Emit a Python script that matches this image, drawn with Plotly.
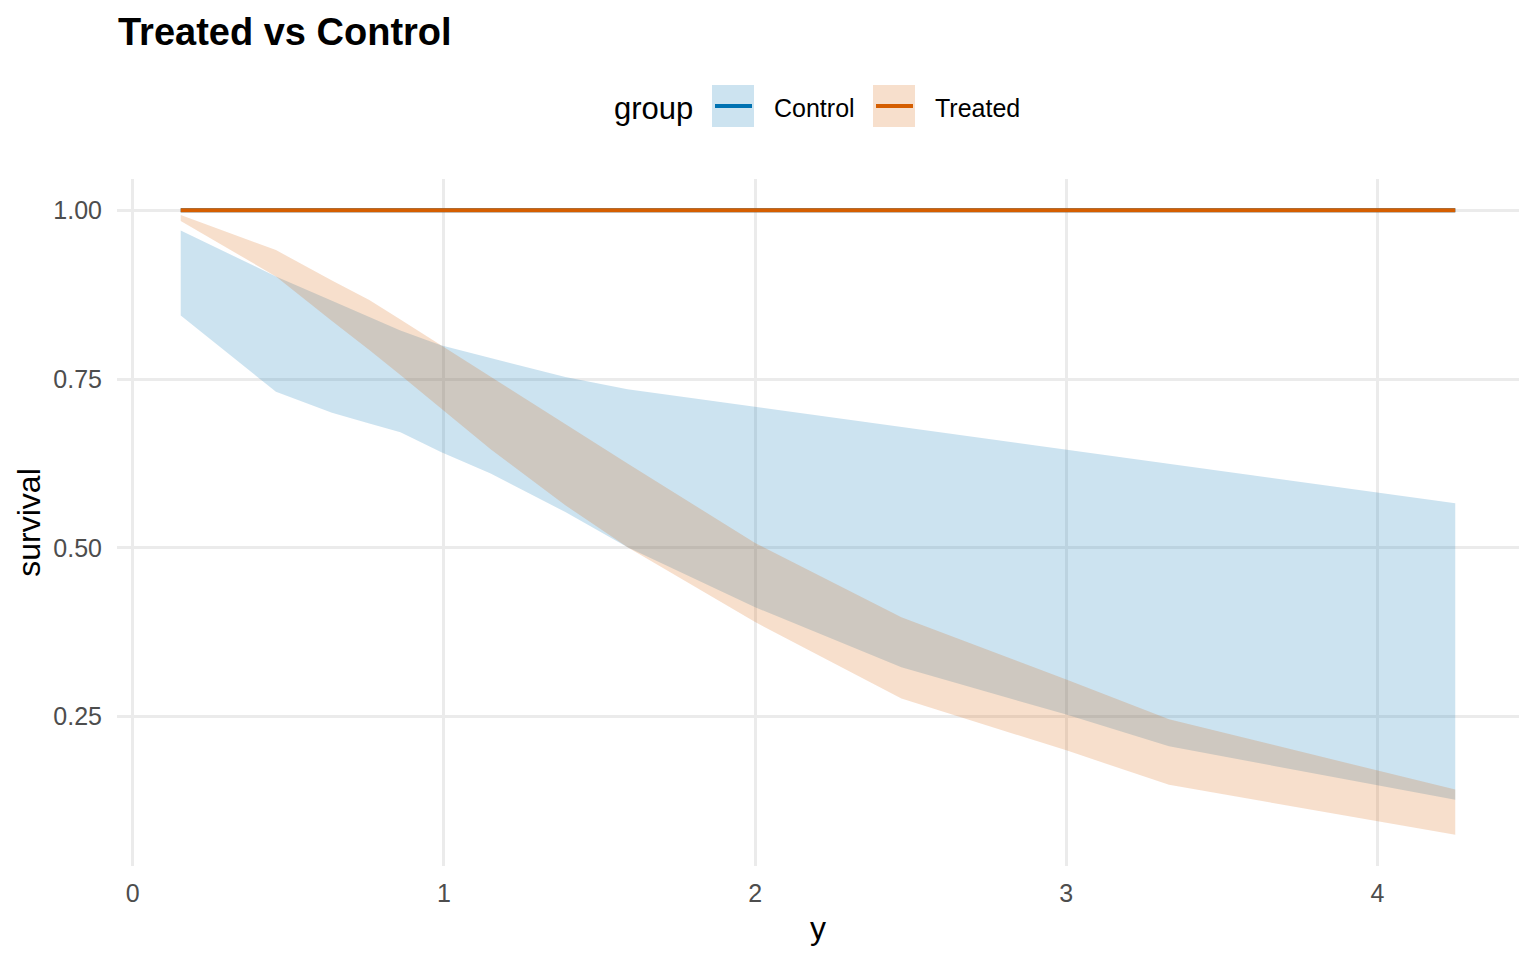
import plotly.graph_objects as go

# ---- data ----
time = [0.154, 0.46, 0.64, 0.76, 0.86, 0.99, 1.15, 1.39, 1.59, 2.0, 2.47, 3.0, 3.33, 4.25]
control_surv = [1.0, 1.0, 1.0, 1.0, 1.0, 1.0, 1.0, 1.0, 1.0, 1.0, 1.0, 1.0, 1.0, 1.0]
control_upper = [0.970, 0.902, 0.866, 0.842, 0.822, 0.800, 0.781, 0.753, 0.735, 0.709, 0.679, 0.645, 0.624, 0.566]
control_lower = [0.844, 0.731, 0.700, 0.684, 0.671, 0.642, 0.610, 0.553, 0.501, 0.412, 0.323, 0.253, 0.206, 0.127]
treated_surv = [1.0, 1.0, 1.0, 1.0, 1.0, 1.0, 1.0, 1.0, 1.0, 1.0, 1.0, 1.0, 1.0, 1.0]
treated_upper = [0.993, 0.941, 0.896, 0.867, 0.838, 0.800, 0.753, 0.684, 0.625, 0.507, 0.397, 0.305, 0.246, 0.142]
treated_lower = [0.984, 0.902, 0.836, 0.793, 0.756, 0.707, 0.646, 0.563, 0.501, 0.390, 0.277, 0.200, 0.149, 0.075]

groups = ["Control", "Treated"]
x_ticks = [0, 1, 2, 3, 4]
y_ticks = [0.25, 0.50, 0.75, 1.00]
y_ticktext = ["0.25", "0.50", "0.75", "1.00"]

line_colors = {"Control": "#0072B2", "Treated": "#D55E00"}
fill_colors = {"Control": "rgba(0,114,178,0.2)", "Treated": "rgba(213,94,0,0.2)"}

FONT = "Liberation Sans, Arial, sans-serif"
OFF = 8  # page body margin
W, H = 1536 - 2 * OFF, 960 - 2 * OFF
PL, PR, PT, PB = 117 - OFF, 1519 - OFF, 179 - OFF, 866 - OFF  # panel edges in figure pixels

series = {
    "Control": (control_surv, control_upper, control_lower),
    "Treated": (treated_surv, treated_upper, treated_lower),
}

fig = go.Figure()
for g in groups:
    s, up, lo = series[g]
    fig.add_trace(go.Scatter(
        x=time + time[::-1], y=up + lo[::-1], fill="toself",
        fillcolor=fill_colors[g], line=dict(width=0), mode="lines",
        showlegend=False, hoverinfo="skip"))
for g in groups:
    s, up, lo = series[g]
    fig.add_trace(go.Scatter(
        x=time, y=s, mode="lines", line=dict(color=line_colors[g], width=4),
        name=g, showlegend=False))

xmin, xmax = min(time), max(time)
ymin, ymax = min(treated_lower + control_lower), 1.0
dx, dy = (xmax - xmin) * 0.05, (ymax - ymin) * 0.05


def px(xp):
    return (xp - OFF - PL) / (PR - PL)


def py(yp):
    return (PB - (yp - OFF)) / (PB - PT)


shapes = []
annotations = []
# manual legend in ggplot style (positions given in screen pixels)
annotations.append(dict(text="group", x=px(612), y=py(108), xref="paper", yref="paper",
                        xanchor="left", yanchor="middle", showarrow=False,
                        font=dict(family=FONT, size=31, color="black")))
legend_items = [("Control", 712, 772), ("Treated", 873, 933)]
for g, kx, tx in legend_items:
    shapes.append(dict(type="rect", xref="paper", yref="paper",
                       x0=px(kx), x1=px(kx + 42), y0=py(127), y1=py(85),
                       fillcolor=fill_colors[g], line=dict(width=0), layer="above"))
    shapes.append(dict(type="line", xref="paper", yref="paper",
                       x0=px(kx + 3), x1=px(kx + 40), y0=py(106), y1=py(106),
                       line=dict(color=line_colors[g], width=4), layer="above"))
    annotations.append(dict(text=g, x=px(tx), y=py(108), xref="paper", yref="paper",
                            xanchor="left", yanchor="middle", showarrow=False,
                            font=dict(family=FONT, size=25, color="black")))

fig.update_layout(
    width=W, height=H,
    margin=dict(l=PL, r=W - PR, t=PT, b=H - PB, autoexpand=False),
    paper_bgcolor="white", plot_bgcolor="white",
    title=dict(text="<b>Treated vs Control</b>", xref="container", yref="container",
               x=(119 - OFF - 1) / W, xanchor="left", y=1 - (32 - OFF) / H, yanchor="middle",
               font=dict(family=FONT, size=38, color="black")),
    xaxis=dict(range=[xmin - dx, xmax + dx], tickvals=x_ticks, ticktext=[str(v) for v in x_ticks],
               showgrid=True, gridcolor="#EBEBEB", gridwidth=3, zeroline=False,
               showline=False, ticks="", ticklabelstandoff=10,
               tickfont=dict(family=FONT, size=25, color="#4D4D4D"),
               title=dict(text="y", standoff=10, font=dict(family=FONT, size=32, color="black"))),
    yaxis=dict(range=[ymin - dy, ymax + dy], tickvals=y_ticks, ticktext=y_ticktext,
               showgrid=True, gridcolor="#EBEBEB", gridwidth=3, zeroline=False,
               showline=False, ticks="", ticklabelstandoff=14,
               tickfont=dict(family=FONT, size=25, color="#4D4D4D"),
               title=dict(text="survival", standoff=3, font=dict(family=FONT, size=32, color="black"))),
    shapes=shapes, annotations=annotations, showlegend=False,
)

fig.write_html("out.html")
